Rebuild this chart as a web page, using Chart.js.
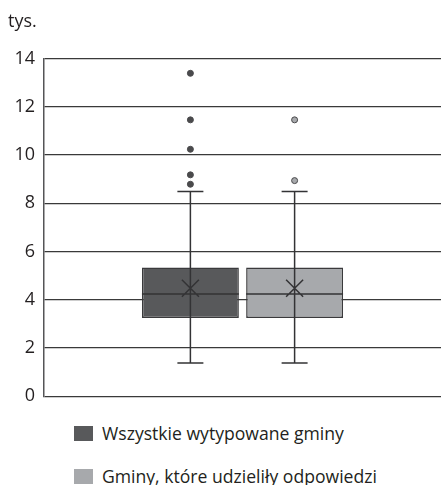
<!DOCTYPE html>
<html>
<head>
<meta charset="utf-8">
<script src="https://cdn.jsdelivr.net/npm/chart.js@4"></script>
<style>
  body { margin: 0; background: #fff; font-family: "Open Sans", sans-serif; }
  #wrap { position: relative; width: 441px; height: 485px; }
  #box { position: absolute; left: 0; top: 0; width: 441px; height: 416px; }
  #legend { position: absolute; left: 74px; top: 422px; }
  .item { display: flex; align-items: center; height: 22px; margin-bottom: 21px; font-size: 17.6px; color: #231f20; }
  .swatch { width: 19px; height: 15px; margin-right: 9px; }
</style>
</head>
<body>
<div id="wrap">
  <div id="box"><canvas id="chart"></canvas></div>
  <div id="legend"></div>
</div>
<script>
const categories = ['Wszystkie wytypowane gminy', 'Gminy, które udzieliły odpowiedzi'];
const colors = ['#58595b', '#a7a9ac'];
const whiskerMin = [1.38, 1.38];
const q1 = [3.24, 3.24];
const median = [4.24, 4.24];
const q3 = [5.34, 5.34];
const whiskerMax = [8.49, 8.49];
const means = [4.48, 4.48];
const outliers = [
  [13.39, 11.46, 10.24, 9.18, 8.79],
  [11.46, 8.94]
];
const yMax = 14;
const yStep = 2;

// whiskers, medians, means and outliers on top of the bars
const boxPlotExtras = {
  id: 'boxPlotExtras',
  afterDatasetsDraw(chart) {
    const ctx = chart.ctx;
    const y = chart.scales.y;
    chart.data.datasets.forEach((ds, i) => {
      const bar = chart.getDatasetMeta(i).data[0];
      const x = bar.x;
      const half = bar.width / 2;
      ctx.save();
      ctx.strokeStyle = '#333335';
      ctx.lineWidth = 1.5;
      ctx.beginPath();
      ctx.moveTo(x, y.getPixelForValue(whiskerMin[i]));
      ctx.lineTo(x, y.getPixelForValue(whiskerMax[i]));
      [whiskerMin[i], whiskerMax[i]].forEach(v => {
        const py = y.getPixelForValue(v);
        ctx.moveTo(x - 13, py);
        ctx.lineTo(x + 13, py);
      });
      const my = y.getPixelForValue(median[i]);
      ctx.moveTo(x - half, my);
      ctx.lineTo(x + half, my);
      const ay = y.getPixelForValue(means[i]);
      ctx.moveTo(x - 8.5, ay - 8.5);
      ctx.lineTo(x + 8.5, ay + 8.5);
      ctx.moveTo(x + 8.5, ay - 8.5);
      ctx.lineTo(x - 8.5, ay + 8.5);
      ctx.stroke();

      outliers[i].forEach(v => {
        ctx.beginPath();
        ctx.arc(x, y.getPixelForValue(v), 3, 0, Math.PI * 2);
        ctx.fillStyle = i === 0 ? '#4a4a4c' : colors[i];
        ctx.fill();
        ctx.lineWidth = 1;
        ctx.strokeStyle = '#4a4a4c';
        ctx.stroke();
      });
      ctx.restore();
    });
  }
};

const ctx = document.getElementById('chart').getContext('2d');
const chart = new Chart(ctx, {
  type: 'bar',
  data: {
    labels: [''],
    datasets: categories.map((name, i) => ({
      label: name,
      data: [[q1[i], q3[i]]],
      backgroundColor: colors[i],
      borderColor: '#3a3a3c',
      borderWidth: 1.5,
      borderSkipped: false,
      categoryPercentage: 0.525,
      barPercentage: 0.93
    }))
  },
  options: {
    responsive: true,
    maintainAspectRatio: false,
    animation: false,
    layout: { padding: { left: 8, right: 0, top: 0, bottom: 0 } },
    plugins: {
      legend: { display: false },
      tooltip: { enabled: false },
      title: {
        display: true,
        text: 'tys.',
        align: 'start',
        color: '#231f20',
        font: { family: 'Open Sans', size: 18, weight: 'normal' },
        padding: { top: 11, bottom: 26 }
      }
    },
    scales: {
      x: { display: false },
      y: {
        min: 0,
        max: yMax,
        afterFit: scale => { scale.width = 36; },
        ticks: {
          stepSize: yStep,
          padding: 9,
          color: '#231f20',
          font: { family: 'Open Sans', size: 18 }
        },
        grid: { color: '#3a3a3a', lineWidth: 1.3, drawTicks: false },
        border: { display: true, color: '#555557', width: 1.5 }
      }
    }
  },
  plugins: [boxPlotExtras]
});

const legend = document.getElementById('legend');
categories.forEach((name, i) => {
  const item = document.createElement('div');
  item.className = 'item';
  item.innerHTML = `<span class="swatch" style="background:${colors[i]}"></span><span>${name}</span>`;
  legend.appendChild(item);
});
</script>
</body>
</html>
